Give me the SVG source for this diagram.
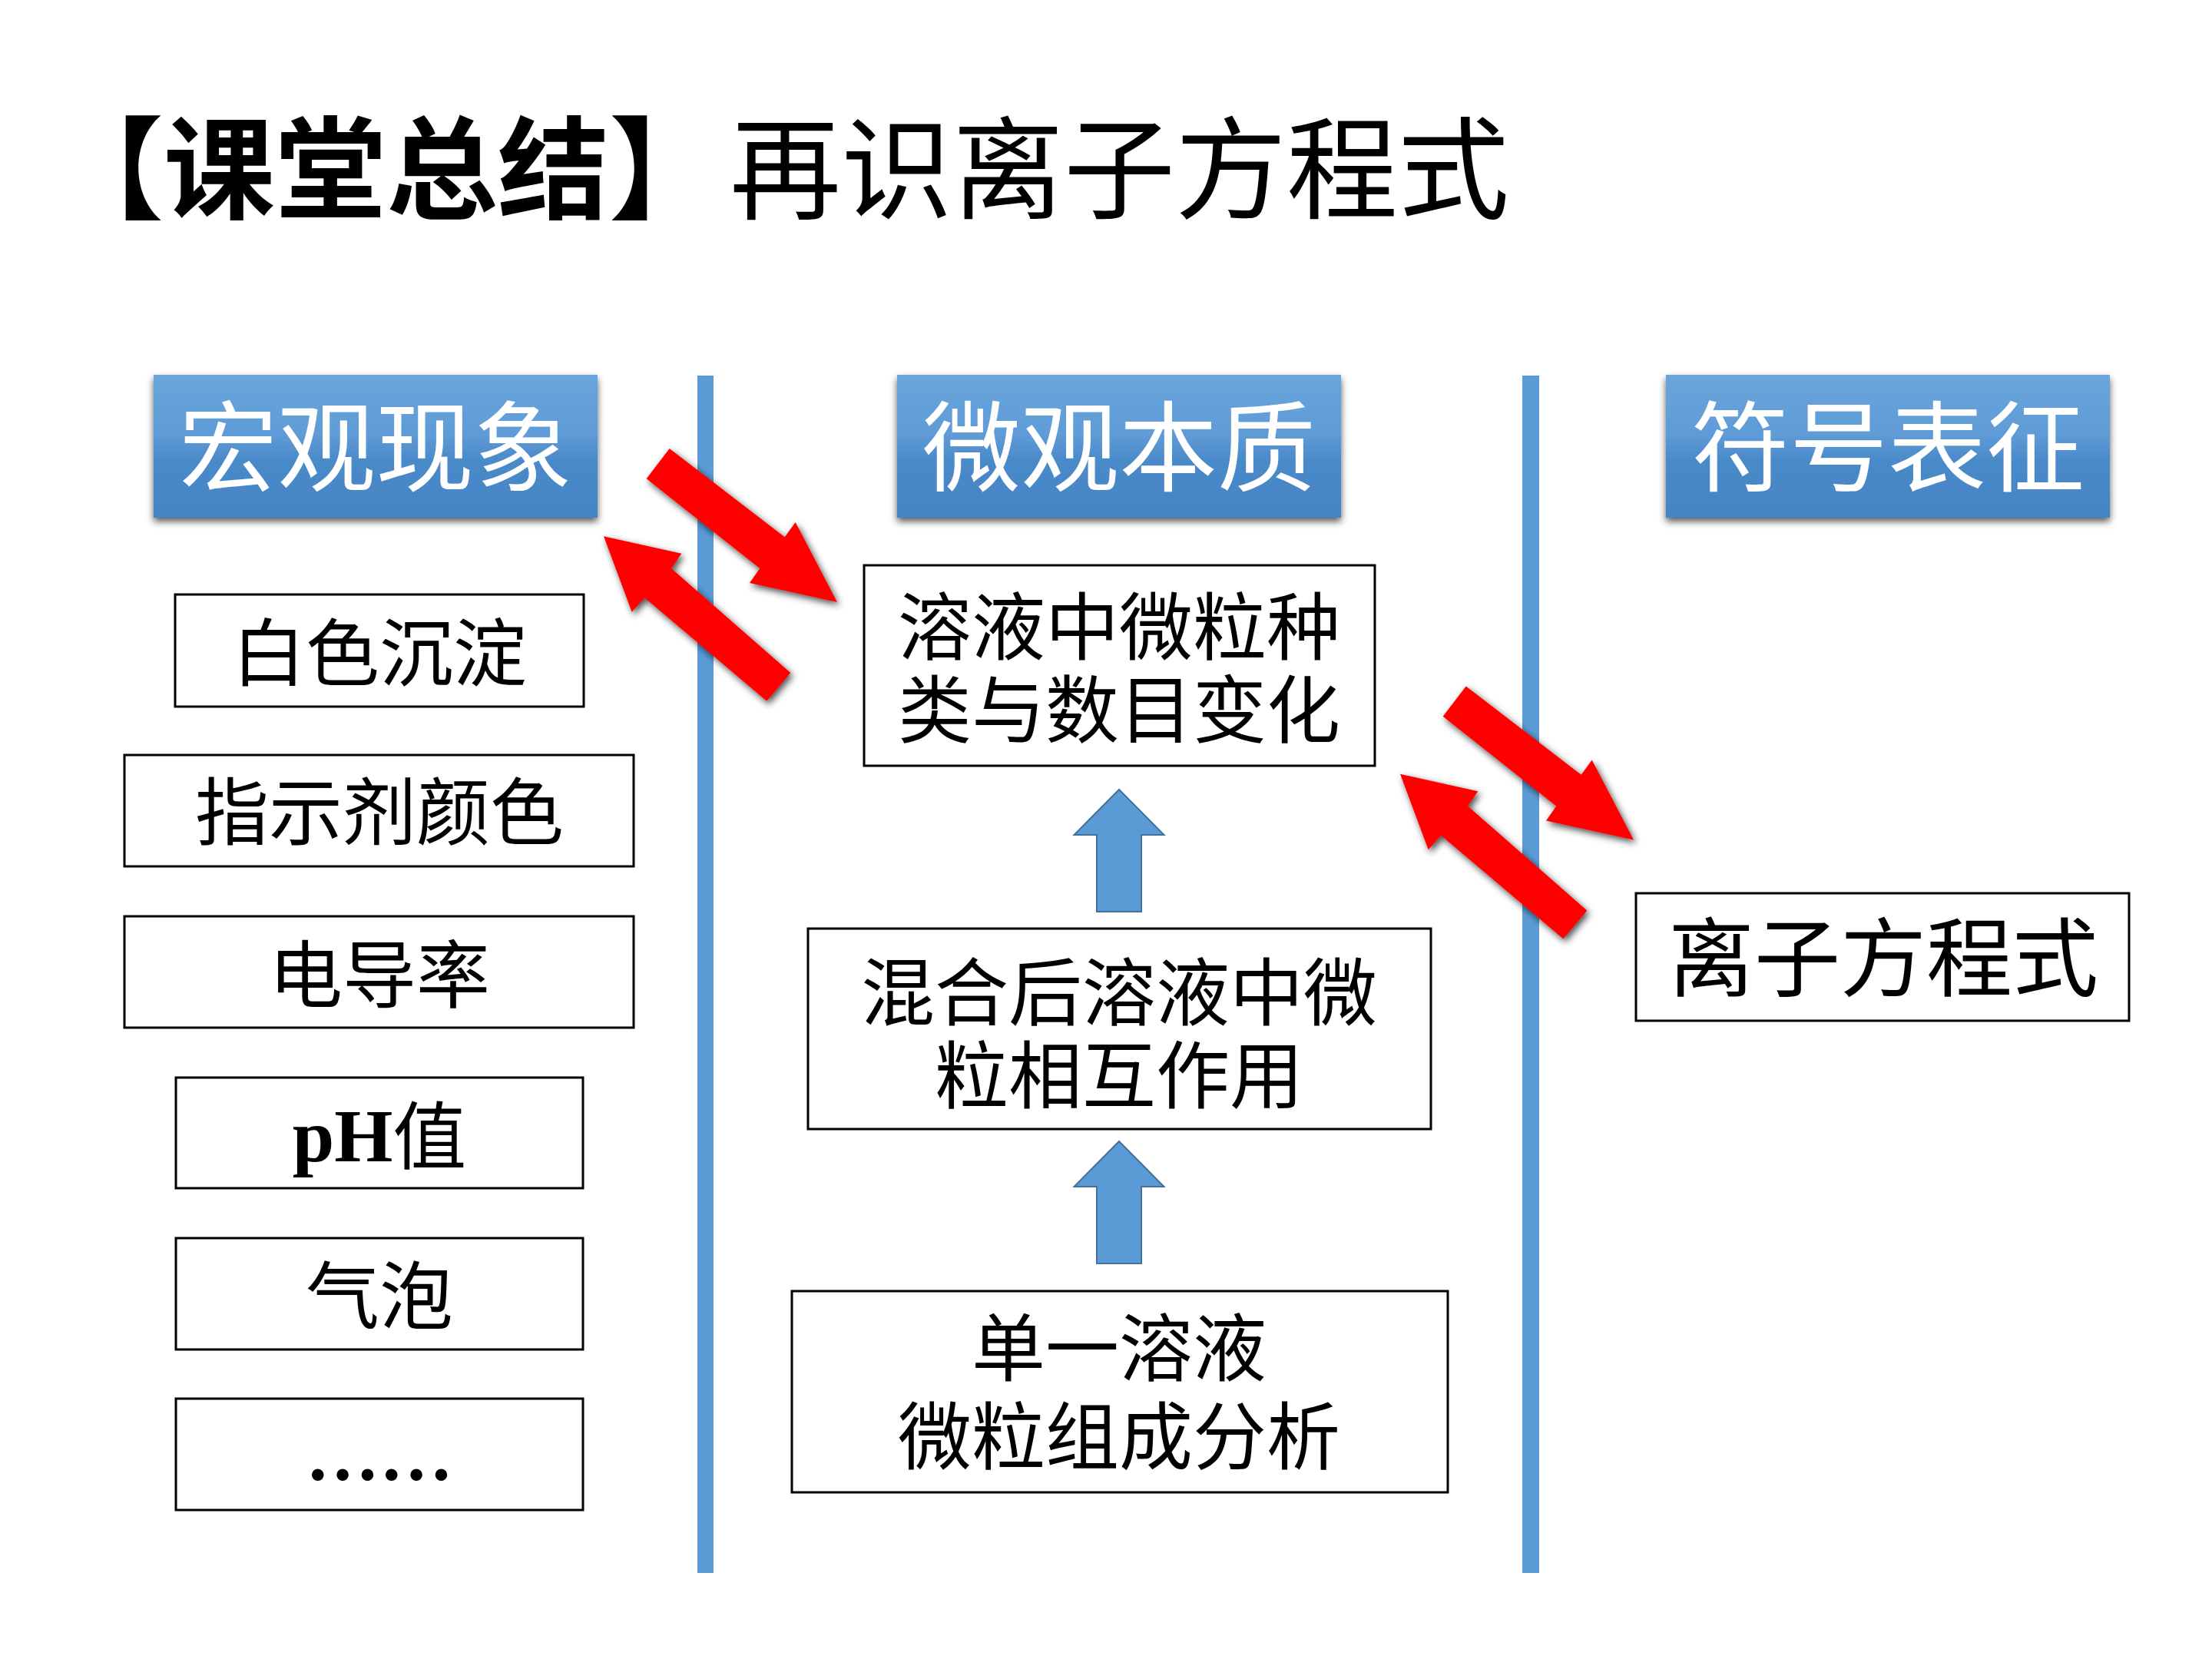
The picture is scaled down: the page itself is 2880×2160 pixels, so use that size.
<svg xmlns="http://www.w3.org/2000/svg" width="2880" height="2160" viewBox="0 0 2880 2160">
<defs>
<linearGradient id="hg" x1="0" y1="0" x2="0" y2="1">
<stop offset="0" stop-color="#6aa5dd"/>
<stop offset="0.42" stop-color="#5f9bd6"/>
<stop offset="0.6" stop-color="#4a8ac9"/>
<stop offset="1" stop-color="#4584c5"/>
</linearGradient>
<filter id="hs" x="-10%" y="-20%" width="120%" height="150%">
<feDropShadow dx="0" dy="5" stdDeviation="5" flood-color="#000" flood-opacity="0.65"/>
</filter>
<filter id="rs" x="-25%" y="-25%" width="150%" height="150%">
<feDropShadow dx="3" dy="4" stdDeviation="5" flood-color="#000" flood-opacity="0.7"/>
</filter>
<polygon id="arrDR" points="871.7,584 1021.7,699.3 1035.7,680 1090,784 976,759 989.3,740 841.7,623.3"/>
<polygon id="arrUL" points="786,698.3 887.3,720.7 874,740 1029.3,876 998.3,912.7 839.3,778.3 822.7,796.7"/>
<polygon id="upArr" points="0,0 58.5,59 29,59 29,159 -29,159 -29,59 -58.5,59"/>
</defs>
<style>
.cjk{font-family:"Noto Sans CJK SC","Noto Sans CJK TC",sans-serif;}
.box{fill:#fff;stroke:#000;stroke-width:3;}
.hdr{fill:url(#hg);filter:url(#hs);}
.hdrt{fill:#fff;font-size:128px;text-anchor:middle;}
.t96{font-size:96px;text-anchor:middle;fill:#000;}
.vline{fill:#5b9bd5;}
.red{fill:#ff0000;filter:url(#rs);}
.blue{fill:#5b9bd5;stroke:#41719c;stroke-width:2;}
</style>
<rect width="2880" height="2160" fill="#fff"/>

<g id="title">
<text class="cjk" x="68" y="274" font-size="145" fill="#000"><tspan font-weight="700">【课堂总结】</tspan><tspan x="950">再识离子方程式</tspan></text>
</g>

<g id="dividers">
<rect class="vline" x="908" y="489" width="21" height="1559"/>
<rect class="vline" x="1982" y="489" width="22" height="1559"/>
</g>

<g id="hdr-macro">
<rect class="hdr" x="200" y="488" width="578" height="186"/>
<text class="cjk hdrt" x="489" y="630">宏观现象</text>
</g>
<g id="hdr-micro">
<rect class="hdr" x="1168" y="488" width="578" height="186"/>
<text class="cjk hdrt" x="1457" y="630">微观本质</text>
</g>
<g id="hdr-symbol">
<rect class="hdr" x="2169" y="488" width="578" height="186"/>
<text class="cjk hdrt" x="2458" y="630">符号表征</text>
</g>

<g id="node-baise">
<rect class="box" x="228" y="774" width="532" height="146"/>
<text class="cjk t96" x="494" y="885">白色沉淀</text>
</g>
<g id="node-zhishiji">
<rect class="box" x="162" y="983" width="663" height="145"/>
<text class="cjk t96" x="494" y="1092">指示剂颜色</text>
</g>
<g id="node-diandao">
<rect class="box" x="162" y="1193" width="663" height="145"/>
<text class="cjk t96" x="494" y="1304">电导率</text>
</g>
<g id="node-ph">
<rect class="box" x="229" y="1403" width="530" height="144"/>
<text class="t96" x="494" y="1512"><tspan font-family="'Liberation Serif',serif" font-weight="700" font-size="98">pH</tspan><tspan font-family="'Noto Sans CJK SC',sans-serif" dy="2">值</tspan></text>
</g>
<g id="node-qipao">
<rect class="box" x="229" y="1612" width="530" height="145"/>
<text class="cjk t96" x="494" y="1722">气泡</text>
</g>
<g id="node-etc">
<rect class="box" x="229" y="1821" width="530" height="145"/>
<text class="t96" x="494" y="1927" font-family="'Liberation Serif',serif" font-weight="700" font-size="95">……</text>
</g>

<g id="node-change">
<rect class="box" x="1125" y="736" width="665" height="261"/>
<text class="cjk t96" x="1457" y="851"><tspan x="1457">溶液中微粒种</tspan><tspan x="1457" dy="108">类与数目变化</tspan></text>
</g>
<g id="node-interact">
<rect class="box" x="1052" y="1209" width="811" height="261"/>
<text class="cjk t96" x="1457" y="1327"><tspan x="1457">混合后溶液中微</tspan><tspan x="1457" dy="108">粒相互作用</tspan></text>
</g>
<g id="node-single">
<rect class="box" x="1031" y="1681" width="854" height="262"/>
<text class="cjk t96" x="1457" y="1790"><tspan x="1457">单一溶液</tspan><tspan x="1457" dy="115">微粒组成分析</tspan></text>
</g>
<g id="node-equation">
<rect class="box" x="2130" y="1163" width="642" height="166"/>
<text class="cjk" x="2452" y="1289" font-size="112" text-anchor="middle" fill="#000">离子方程式</text>
</g>

<g id="connectors">
<use href="#upArr" class="blue" x="1457" y="1028"/>
<use href="#upArr" class="blue" x="1457" y="1486"/>
<use href="#arrDR" class="red"/>
<use href="#arrUL" class="red"/>
<use href="#arrDR" class="red" x="1037" y="309.5"/>
<use href="#arrUL" class="red" x="1037" y="309.5"/>
</g>
</svg>
